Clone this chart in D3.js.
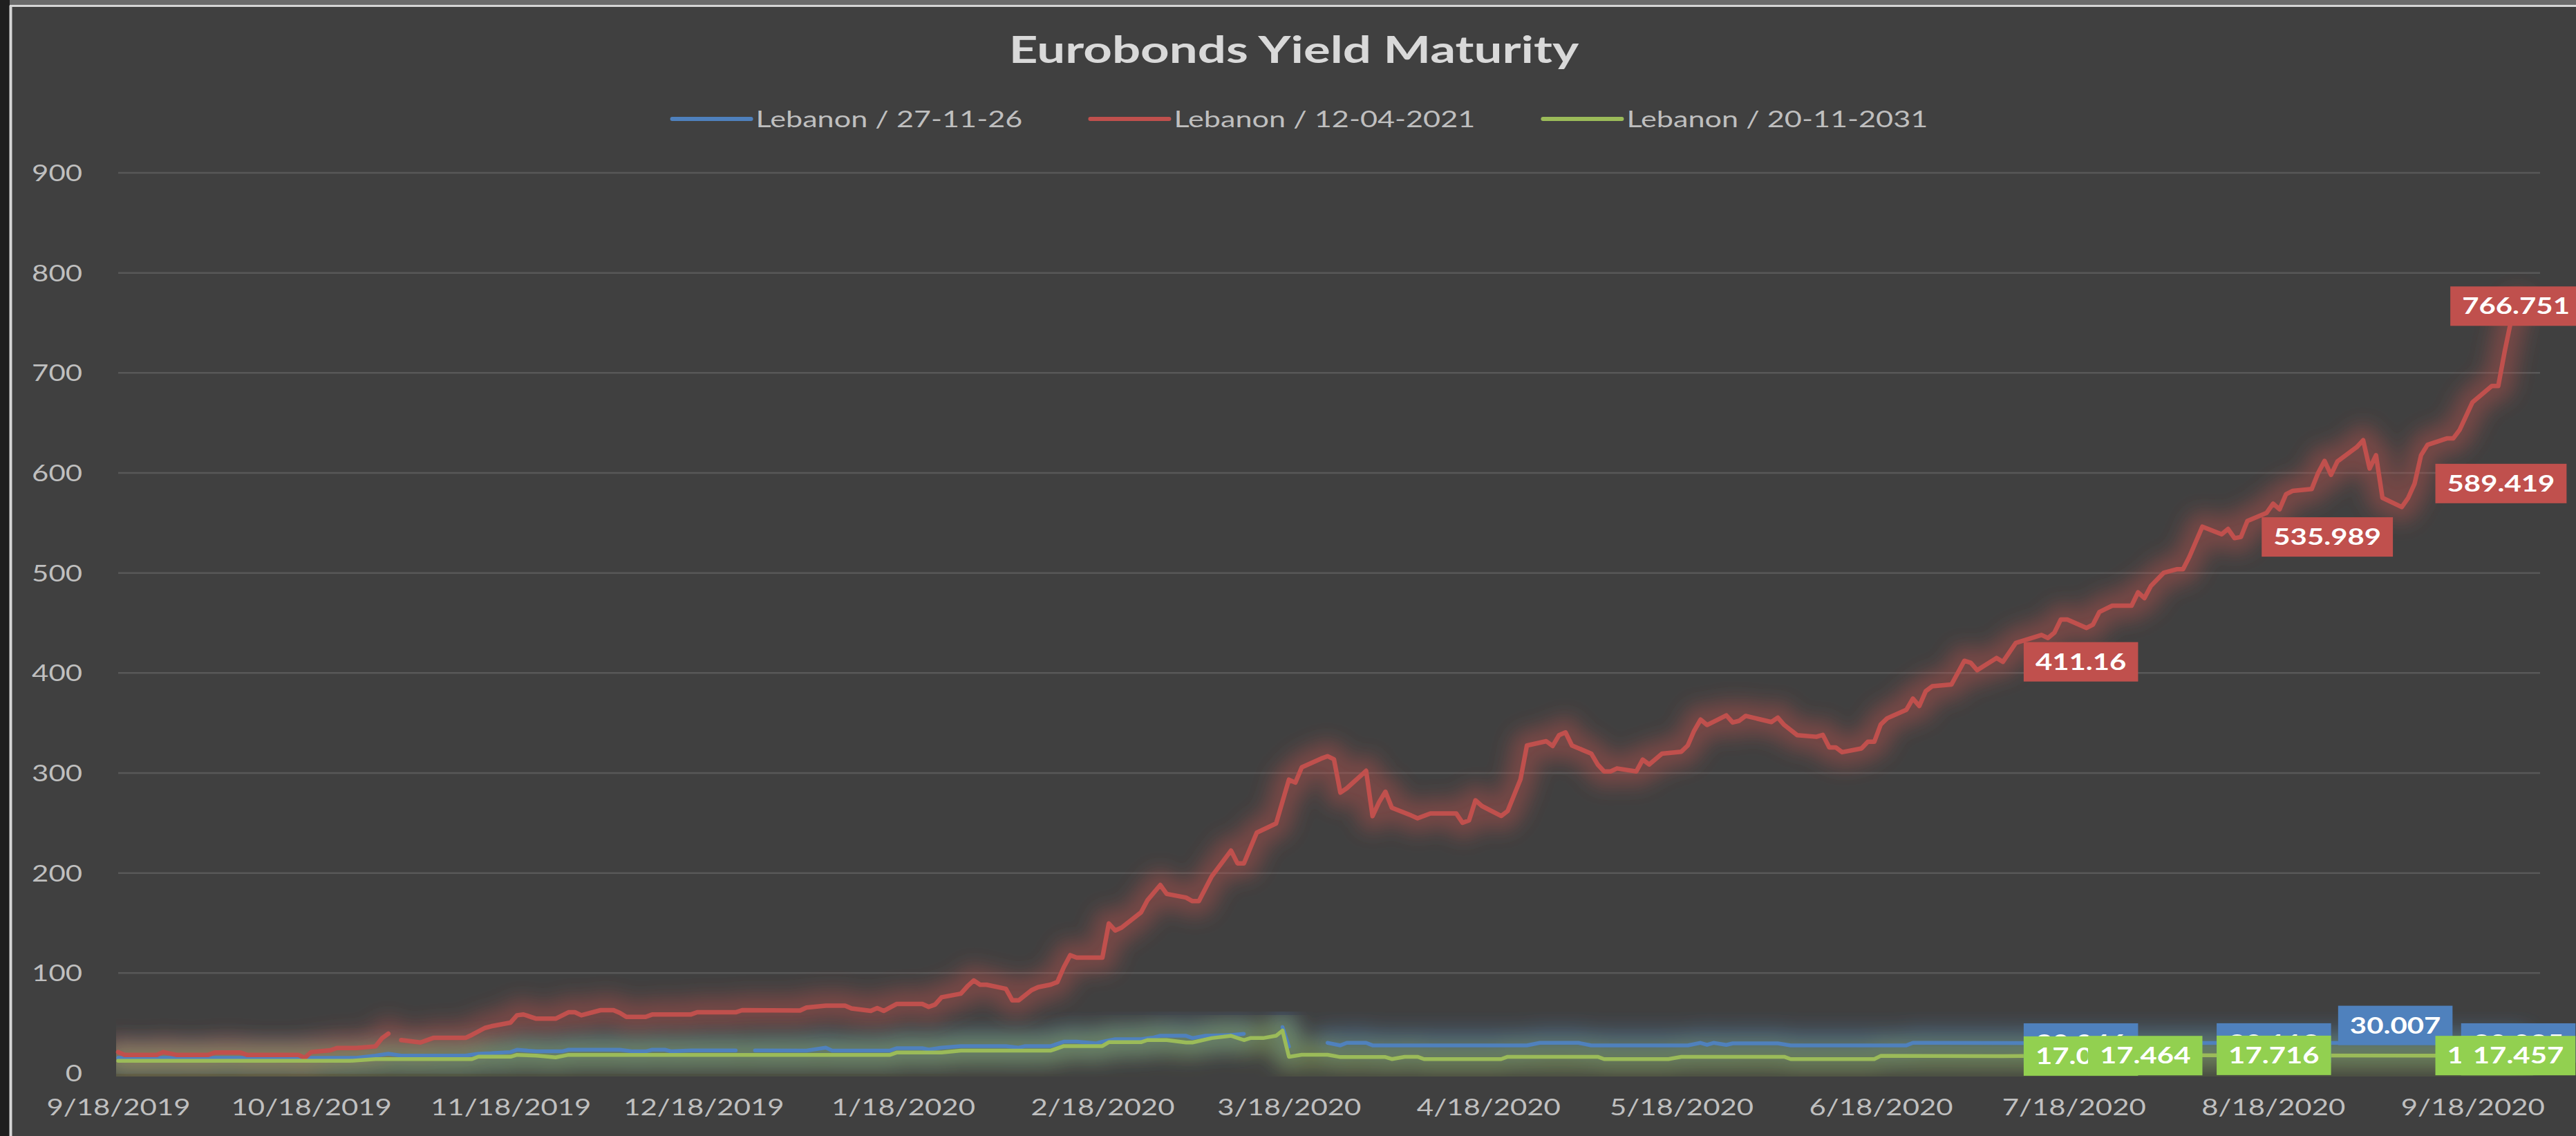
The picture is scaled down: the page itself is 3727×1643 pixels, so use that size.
<!DOCTYPE html>
<html><head><meta charset="utf-8">
<script src="https://cdn.jsdelivr.net/npm/d3@7"></script>
<style>html,body{margin:0;padding:0;background:#404040;overflow:hidden}</style>
</head><body>
<svg id="chart" width="3727" height="1643"></svg>
<script>
// ---------- data ----------
const chartTitle = "Eurobonds Yield Maturity";
const seriesNames = ["Lebanon / 27-11-26", "Lebanon / 12-04-2021", "Lebanon / 20-11-2031"];
const xTickLabels = ["9/18/2019","10/18/2019","11/18/2019","12/18/2019","1/18/2020","2/18/2020","3/18/2020","4/18/2020","5/18/2020","6/18/2020","7/18/2020","8/18/2020","9/18/2020"];
const yTicks = [0,100,200,300,400,500,600,700,800,900];

const blueDates = ["2019-09-18","2019-10-25","2019-10-28","2019-10-30","2019-11-01","2019-11-11","2019-11-13","2019-11-15","2019-11-18","2019-11-19","2019-11-22","2019-11-26","2019-11-27","2019-12-05","2019-12-07","2019-12-09","2019-12-10","2019-12-12","2019-12-13","2019-12-16","2019-12-23","2019-12-24","2019-12-26","2020-01-03","2020-01-06","2020-01-07","2020-01-16","2020-01-17","2020-01-21","2020-01-22","2020-01-24","2020-01-27","2020-02-03","2020-02-05","2020-02-06","2020-02-10","2020-02-12","2020-02-14","2020-02-17","2020-02-18","2020-02-20","2020-02-24","2020-02-26","2020-02-27","2020-03-02","2020-03-03","2020-03-05","2020-03-09","2020-03-11","2020-03-12","2020-03-17","2020-03-18","2020-03-19","2020-03-24","2020-03-26","2020-03-27","2020-03-30","2020-03-31","2020-04-24","2020-04-26","2020-05-02","2020-05-04","2020-05-19","2020-05-21","2020-05-22","2020-05-23","2020-05-25","2020-05-26","2020-06-02","2020-06-04","2020-06-22","2020-06-23","2020-07-07","2020-07-17","2020-08-06","2020-08-13","2020-09-06","2020-09-09","2020-09-13","2020-09-25"];
const blueValues = [15.2,15.2,17.5,19.4,17.5,17.5,19.4,19.8,21,23.3,21.7,21.7,23.3,23.3,21.7,21.7,23.3,23.3,21.7,22.6,22.6,null,22.6,22.5,25.4,22.5,22.5,24.9,24.9,23.5,25.4,27,27,25.4,27,27,31.4,31.4,29.7,31.4,33.9,33.9,35.7,37.3,37.3,35,37.3,38.1,39.3,null,46,26.5,null,30.2,27.7,30.2,30.2,27.7,27.7,30.2,30.2,27.7,27.7,30.2,28.2,30.2,28.2,29.7,29.7,27.7,27.7,30.2,30.046,29.9,30.112,30.3,30.007,30.2,30.085,30.1];

const redDates = ["2019-09-18","2019-09-19","2019-09-24","2019-09-25","2019-09-27","2019-10-02","2019-10-03","2019-10-07","2019-10-08","2019-10-16","2019-10-17","2019-10-18","2019-10-21","2019-10-22","2019-10-25","2019-10-28","2019-10-29","2019-10-30","2019-10-31","2019-11-01","2019-11-04","2019-11-06","2019-11-11","2019-11-12","2019-11-14","2019-11-15","2019-11-18","2019-11-19","2019-11-20","2019-11-22","2019-11-25","2019-11-27","2019-11-28","2019-11-29","2019-12-02","2019-12-04","2019-12-05","2019-12-06","2019-12-09","2019-12-10","2019-12-16","2019-12-17","2019-12-23","2019-12-24","2020-01-02","2020-01-03","2020-01-06","2020-01-09","2020-01-10","2020-01-13","2020-01-14","2020-01-15","2020-01-17","2020-01-21","2020-01-22","2020-01-23","2020-01-24","2020-01-27","2020-01-28","2020-01-29","2020-01-30","2020-01-31","2020-02-03","2020-02-04","2020-02-05","2020-02-07","2020-02-08","2020-02-10","2020-02-11","2020-02-12","2020-02-13","2020-02-14","2020-02-18","2020-02-19","2020-02-20","2020-02-21","2020-02-24","2020-02-25","2020-02-27","2020-02-28","2020-03-02","2020-03-03","2020-03-04","2020-03-06","2020-03-09","2020-03-10","2020-03-11","2020-03-13","2020-03-16","2020-03-18","2020-03-19","2020-03-20","2020-03-23","2020-03-24","2020-03-25","2020-03-26","2020-03-27","2020-03-30","2020-03-31","2020-04-01","2020-04-02","2020-04-03","2020-04-06","2020-04-07","2020-04-09","2020-04-13","2020-04-14","2020-04-15","2020-04-16","2020-04-17","2020-04-20","2020-04-21","2020-04-23","2020-04-24","2020-04-27","2020-04-28","2020-04-29","2020-04-30","2020-05-01","2020-05-04","2020-05-05","2020-05-06","2020-05-07","2020-05-08","2020-05-11","2020-05-12","2020-05-13","2020-05-15","2020-05-18","2020-05-19","2020-05-20","2020-05-21","2020-05-22","2020-05-25","2020-05-26","2020-05-27","2020-05-28","2020-06-01","2020-06-02","2020-06-03","2020-06-05","2020-06-08","2020-06-09","2020-06-10","2020-06-11","2020-06-12","2020-06-15","2020-06-16","2020-06-17","2020-06-18","2020-06-19","2020-06-22","2020-06-23","2020-06-24","2020-06-25","2020-06-26","2020-06-29","2020-07-01","2020-07-02","2020-07-03","2020-07-06","2020-07-07","2020-07-09","2020-07-13","2020-07-14","2020-07-15","2020-07-16","2020-07-17","2020-07-20","2020-07-21","2020-07-22","2020-07-24","2020-07-27","2020-07-28","2020-07-29","2020-07-30","2020-08-01","2020-08-03","2020-08-04","2020-08-05","2020-08-07","2020-08-10","2020-08-11","2020-08-12","2020-08-13","2020-08-14","2020-08-17","2020-08-18","2020-08-19","2020-08-20","2020-08-21","2020-08-24","2020-08-25","2020-08-26","2020-08-27","2020-08-28","2020-08-31","2020-09-01","2020-09-02","2020-09-03","2020-09-04","2020-09-07","2020-09-08","2020-09-09","2020-09-10","2020-09-11","2020-09-14","2020-09-15","2020-09-16","2020-09-18","2020-09-21","2020-09-22","2020-09-23","2020-09-24","2020-09-25"];
const redValues = [21,18.2,18.2,21,18.2,18.2,20.5,20.5,18.2,18.2,15.2,21,22.8,25.1,25.1,26.7,34.8,39.4,null,33,30.6,35.2,35.2,38.2,45.1,46.8,50.5,57.8,58.6,54.4,54.4,60.8,60.8,57.8,62.9,62.9,60.1,56.2,56.2,58.5,58.5,60.8,60.8,62.9,62.6,65.5,67.4,67.4,64.6,62.2,65,62.2,69.1,69.1,66.2,68.5,75.8,79.4,86.6,92.6,88.3,88.3,84.2,72.7,72.7,83,85.9,88.5,91,105.8,117.9,115.4,115.4,149.6,142.6,145.5,160.6,172.7,188,179.1,175.5,171.9,171.9,196.7,222.4,209.7,209.7,240.4,249.5,293.3,290.4,305.7,314.4,316.8,313.7,280.4,284.8,302.2,256.9,270.7,281.3,265.3,257.6,254.7,259.6,259.6,250.2,252.7,272.7,267,257.1,262,293.7,327.5,331.8,327,337.9,340.6,327.5,319.4,308.5,301.6,301.6,304.6,301.6,313.4,308.5,319.4,321.3,327.5,342.3,353.4,348,357.6,350.5,352.2,357.1,351,355.4,348,337.9,336.2,338.1,325.6,325.6,320.8,324.5,331.2,331.2,348.5,354.7,363.3,374.4,367,381.8,386.7,388.5,412.2,410.2,402.8,415,411.16,430,438,435,440.3,453.5,453.5,445,448.4,461,467.3,467.3,480.6,474.9,487,500.2,503.7,503.7,516.3,546.3,538.7,544,534.8,535.989,552,560.1,569.3,563.6,578.6,582,583.9,600,612,598.1,611.5,625.8,632.7,604.4,617.7,575.1,565.9,575.1,589.419,617.7,628.1,634.5,634.5,643.1,670.7,686.9,686.9,721.4,752.5,766.751];

const greenDates = ["2019-09-18","2019-10-24","2019-10-28","2019-11-12","2019-11-13","2019-11-18","2019-11-19","2019-11-22","2019-11-25","2019-11-27","2020-01-16","2020-01-17","2020-01-24","2020-01-27","2020-02-10","2020-02-12","2020-02-18","2020-02-19","2020-02-24","2020-02-25","2020-02-28","2020-03-02","2020-03-03","2020-03-06","2020-03-09","2020-03-11","2020-03-12","2020-03-14","2020-03-16","2020-03-17","2020-03-18","2020-03-20","2020-03-24","2020-03-26","2020-04-02","2020-04-03","2020-04-05","2020-04-07","2020-04-08","2020-04-20","2020-04-21","2020-05-05","2020-05-06","2020-05-16","2020-05-18","2020-06-03","2020-06-04","2020-06-17","2020-06-18","2020-07-07","2020-07-17","2020-08-06","2020-09-09","2020-09-13","2020-09-25"];
const greenValues = [12.2,12.2,14,14,16.4,16.4,18.2,17.5,15.7,18.2,18.2,20.5,20.5,22.5,22.5,27,27,30.9,30.9,33,33,30.6,30.6,35,37.3,33,35,35,37.3,42.5,16.3,18.3,18.3,16,16,14,16.3,16.3,14,14,16.3,16.3,14,14,16.3,16.3,14,14,17.2,17.018,17.464,17.716,17.52,17.457,17.4];

// which points carry a data label: series index, date, placement
const labelSeries = [0,0,0,0,1,1,1,1,2,2,2,2,2];
const labelDates  = ["2020-07-07","2020-08-06","2020-09-06","2020-09-13","2020-07-07","2020-08-13","2020-09-09","2020-09-25","2020-07-07","2020-07-17","2020-08-06","2020-09-09","2020-09-13"];
const labelPlace  = ["right","right","above","right","right","right","right","right","right","right","right","right","right"];

// ---------- style ----------
const lineColors  = ["#4f81bd","#c0504d","#9bbb59"];
const boxColors   = ["#4f81bd","#c0504d","#92d050"];
const lineWidths  = [5.5, 6.5, 5.5];
const SX = 1.31;               // horizontal stretch of axis / label text
const SXL = 1.35;              // legend text stretch
const FONT = "Lato, 'Open Sans', sans-serif";

const W = 3727, H = 1643;
const plot = {left:171, right:3675, top:250, bottom:1552};

const svg = d3.select("#chart");
const parse = d3.utcParse("%Y-%m-%d");
const parseTick = d3.utcParse("%m/%d/%Y");

const x = d3.scaleUtc()
  .domain([parse("2019-09-18"), new Date(Date.UTC(2020,8,28,12))])
  .range([plot.left, plot.right]);
const y = d3.scaleLinear().domain([0,900]).range([plot.bottom, plot.top]);

// frame
svg.append("rect").attr("x",0).attr("y",0).attr("width",W).attr("height",H).attr("fill","#404040");
svg.append("rect").attr("x",0).attr("y",0).attr("width",W).attr("height",8).attr("fill","#6b6b6b");
svg.append("rect").attr("x",0).attr("y",0).attr("width",14).attr("height",H).attr("fill","#1f1f1f");
svg.append("line").attr("x1",15.5).attr("x2",15.5).attr("y1",8).attr("y2",H).attr("stroke","#d6d6d6").attr("stroke-width",4);
svg.append("line").attr("x1",14).attr("x2",W).attr("y1",8.5).attr("y2",8.5).attr("stroke","#d6d6d6").attr("stroke-width",3);

const defs = svg.append("defs");
defs.append("filter").attr("id","glow").attr("x","-5%").attr("y","-50%").attr("width","110%").attr("height","200%")
  .append("feGaussianBlur").attr("stdDeviation",14);
defs.append("clipPath").attr("id","plotClip").append("rect")
  .attr("x",168).attr("y",150).attr("width",plot.right-168).attr("height",1557-150);

// gridlines
svg.append("g").selectAll("line").data(yTicks).join("line")
  .attr("x1",plot.left).attr("x2",plot.right)
  .attr("y1",d=>y(d)).attr("y2",d=>y(d))
  .attr("stroke",d=>d===0?"none":"#585858").attr("stroke-width",2.5);

// y axis
const yAxis = svg.append("g").attr("transform",`translate(119,0)`)
  .call(d3.axisLeft(y).tickValues(yTicks).tickSize(0).tickPadding(0));
yAxis.select(".domain").remove();
yAxis.selectAll("text").attr("x",0).attr("dy","0.36em")
  .attr("transform",`scale(${SX},1)`)
  .attr("fill","#bfbfbf").style("font-family",FONT).style("font-size","32px");

// x axis
const xAxis = svg.append("g").attr("transform",`translate(0,${plot.bottom})`)
  .call(d3.axisBottom(x).tickValues(xTickLabels.map(parseTick)).tickSize(0)
        .tickFormat((d,i)=>xTickLabels[i]));
xAxis.select(".domain").remove();
xAxis.selectAll("text").attr("y",0).attr("dy",null)
  .attr("transform",`translate(0,61) scale(${SX},1)`)
  .attr("fill","#bfbfbf").style("font-family",FONT).style("font-size","32px");

// series
const series = [
  blueDates.map((d,i)=>({date:parse(d), v:blueValues[i]})),
  redDates.map((d,i)=>({date:parse(d), v:redValues[i]})),
  greenDates.map((d,i)=>({date:parse(d), v:greenValues[i]}))
];
const line = d3.line().defined(d=>d.v!=null).x(d=>x(d.date)).y(d=>y(d.v));

const glowG = svg.append("g").attr("clip-path","url(#plotClip)");
series.forEach((s,i)=>{
  glowG.append("path").datum(s).attr("d",line).attr("fill","none")
    .attr("stroke",lineColors[i]).attr("stroke-width",44).attr("stroke-opacity",0.42)
    .attr("stroke-linejoin","round").attr("stroke-linecap","round").attr("filter","url(#glow)");
});
const lineG = svg.append("g");
series.forEach((s,i)=>{
  lineG.append("path").datum(s).attr("d",line).attr("fill","none")
    .attr("stroke",lineColors[i]).attr("stroke-width",lineWidths[i])
    .attr("stroke-linejoin","round").attr("stroke-linecap","round");
});

// data labels
const labG = svg.append("g");
labelSeries.forEach((si,k)=>{
  const dt = parse(labelDates[k]);
  const pt = series[si].find(p=>+p.date===+dt);
  const px = x(pt.date), py = y(pt.v);
  const g = labG.append("g");
  const rect = g.append("rect").attr("fill",boxColors[si]);
  const t = g.append("text").text(String(pt.v)).attr("fill","#ffffff")
    .style("font-family",FONT).style("font-size","32px").style("font-weight","700")
    .attr("text-anchor","middle").attr("dy","0.36em");
  const tw = t.node().getComputedTextLength()*SX;
  const bw = tw + 34, bh = 57;
  let left, cy;
  if (labelPlace[k]==="above") { left = px - bw/2; cy = py + 3 - bh/2; }
  else { left = px + 30; cy = py; }
  if (left + bw > W + 8) left = W + 8 - bw;
  rect.attr("x",left).attr("y",cy-bh/2).attr("width",bw).attr("height",bh);
  t.attr("transform",`translate(${left+bw/2},${cy}) scale(${SX},1)`);
});

// title
svg.append("text").text(chartTitle)
  .attr("transform",`translate(1872,91) scale(1.37,1)`).attr("text-anchor","middle")
  .attr("fill","#d9d9d9").style("font-family",FONT).style("font-size","53px").style("font-weight","700");

// legend
const legG = svg.append("g");
const items = seriesNames.map((n,i)=>{
  const g = legG.append("g");
  g.append("line").attr("x1",0).attr("x2",114).attr("y1",0).attr("y2",0)
    .attr("stroke",lineColors[i]).attr("stroke-width",6).attr("stroke-linecap","round");
  const t = g.append("text").text(n).attr("fill","#bfbfbf")
    .style("font-family",FONT).style("font-size","32px").attr("dy","0.36em");
  const tw = t.node().getComputedTextLength()*SXL;
  t.attr("transform",`translate(121,0) scale(${SXL},1)`);
  return {g, w:121+tw};
});
const gap = 98;
const total = d3.sum(items,d=>d.w) + gap*(items.length-1);
let cx = 1881 - total/2;
items.forEach(it=>{ it.g.attr("transform",`translate(${cx},172)`); cx += it.w + gap; });
</script>
</body></html>
